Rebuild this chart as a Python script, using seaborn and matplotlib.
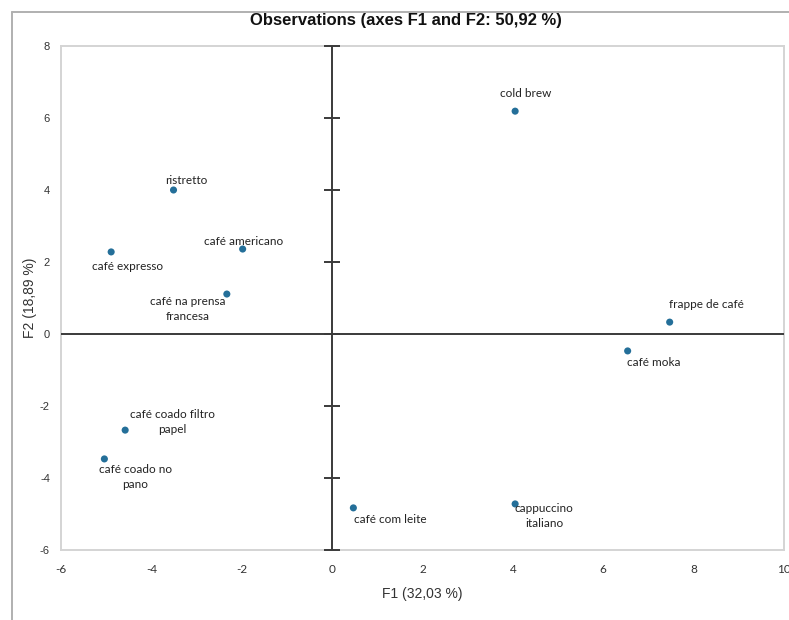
import pandas as pd
import seaborn as sns
import matplotlib.pyplot as plt
from matplotlib.lines import Line2D

# Data
names = ['cold brew', 'ristretto', 'café americano', 'café expresso',
         'café na prensa\nfrancesa', 'frappe de café', 'café moka',
         'café coado filtro\npapel', 'café coado no\npano', 'café com leite',
         'cappuccino\nitaliano']
f1 = [4.05, -3.51, -1.98, -4.89, -2.33, 7.47, 6.54, -4.58, -5.04, 0.47, 4.05]
f2 = [6.19, 4.00, 2.36, 2.28, 1.11, 0.33, -0.47, -2.67, -3.47, -4.83, -4.72]

# label offsets in pixels (text centre relative to the point)
offsets = [(11, 18), (13, 10), (1, 8), (16, -15), (-39, -15), (37, 18),
           (26, -12), (47, 8), (31, -18), (37, -12), (29, -12)]

xticks = [-6, -4, -2, 0, 2, 4, 6, 8, 10]
yticks = [-6, -4, -2, 0, 2, 4, 6, 8]

df = pd.DataFrame({'F1': f1, 'F2': f2, 'name': names})

sns.set_style('white')
plt.rcParams['font.family'] = ['Liberation Sans', 'DejaVu Sans']

fig = plt.figure(figsize=(7.89, 6.2), dpi=100)
ax = fig.add_axes([61 / 789, 70 / 620, (784 - 61) / 789, (550 - 46) / 620])

# zero lines
ax.axvline(0, color='#3a3a3a', lw=1.4, zorder=3)
ax.axhline(0, color='#3a3a3a', lw=1.4, zorder=3)
ax.plot([0] * len(yticks), yticks, ls='none', marker='_', markersize=11,
        markeredgewidth=1.4, color='#3a3a3a', clip_on=False, zorder=3)

sns.scatterplot(data=df, x='F1', y='F2', ax=ax, color='#246f99', s=26,
                edgecolor='none', zorder=4)

for n, x, y, (dx, dy) in zip(names, f1, f2, offsets):
    ax.annotate(n, (x, y), xytext=(dx, dy), textcoords='offset pixels',
                ha='center', va='center', multialignment='center',
                fontsize=8.5, color='#222222', family=['Lato', 'DejaVu Sans'],
                linespacing=1.45, zorder=5)

ax.set_xlim(-6, 10)
ax.set_ylim(-6, 8)
ax.set_xticks(xticks)
ax.set_yticks(yticks)
ax.set_xticklabels([str(t) for t in xticks], family=['Lato', 'DejaVu Sans'],
                   fontsize=8.5, color='#333333')
ax.set_yticklabels([str(t) for t in yticks], fontsize=8, color='#333333')
ax.tick_params(axis='x', length=0, pad=10)
ax.tick_params(axis='y', length=0, pad=8)
for s in ax.spines.values():
    s.set_color('#d4d4d4')
    s.set_linewidth(1.4)
    s.set_zorder(2)

ax.set_xlabel('F1 (32,03 %)', fontsize=10, color='#333333', labelpad=9)
ax.set_ylabel('F2 (18,89 %)', fontsize=10, color='#333333', labelpad=2)

fig.text(406 / 789, 1 - 21 / 620, 'Observations (axes F1 and F2: 50,92 %)',
         ha='center', va='center', fontsize=12, fontweight='bold', color='#111111')

# outer frame
fig.add_artist(Line2D([12 / 789, 12 / 789], [0, 1 - 12 / 620],
                      transform=fig.transFigure, color='#b0b0b0', lw=1.4))
fig.add_artist(Line2D([12 / 789, 1], [1 - 12 / 620, 1 - 12 / 620],
                      transform=fig.transFigure, color='#b0b0b0', lw=1.4))

fig.savefig('out.png', dpi=100)
